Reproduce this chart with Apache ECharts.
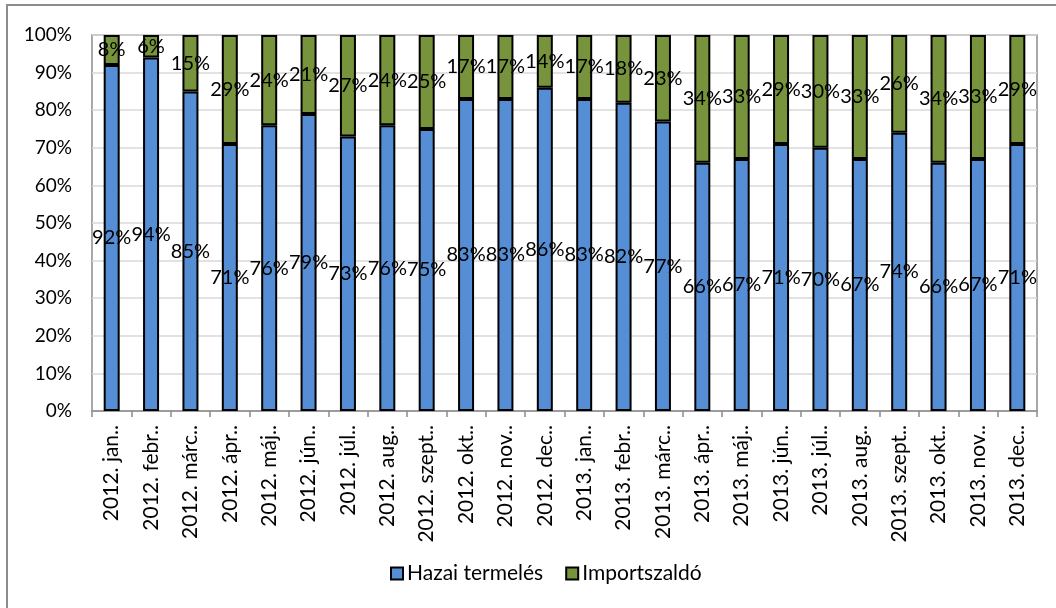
<!DOCTYPE html>
<html>
<head>
<meta charset="utf-8">
<script src="https://cdn.jsdelivr.net/npm/echarts@6/dist/echarts.min.js"></script>
<style>
  html, body { margin: 0; padding: 0; background: #fff; }
  #chart { width: 1056px; height: 608px; }
</style>
</head>
<body>
<div id="chart"></div>
<script>
// Monthly share of domestic production vs. net import (%)
const categories = [
  '2012. jan..', '2012. febr..', '2012. márc..', '2012. ápr..', '2012. máj..', '2012. jún..',
  '2012. júl..', '2012. aug..', '2012. szept..', '2012. okt..', '2012. nov..', '2012. dec..',
  '2013. jan..', '2013. febr..', '2013. márc..', '2013. ápr..', '2013. máj..', '2013. jún..',
  '2013. júl..', '2013. aug..', '2013. szept..', '2013. okt..', '2013. nov..', '2013. dec..'
];
const hazaiTermeles = [92, 94, 85, 71, 76, 79, 73, 76, 75, 83, 83, 86, 83, 82, 77, 66, 67, 71, 70, 67, 74, 66, 67, 71];
const importszaldo  = [8, 6, 15, 29, 24, 21, 27, 24, 25, 17, 17, 14, 17, 18, 23, 34, 33, 29, 30, 33, 26, 34, 33, 29];
const seriesNames = ['Hazai termelés', 'Importszaldó'];

const FONT = 'Lato';
const chart = echarts.init(document.getElementById('chart'), null, { renderer: 'canvas' });

const labelStyle = {
  show: true,
  position: 'inside',
  formatter: p => p.value + '%',
  color: '#000',
  fontFamily: FONT,
  fontSize: 20
};

chart.setOption({
  animation: false,
  backgroundColor: '#fff',
  graphic: [{
    type: 'rect',
    shape: { x: 7, y: 5, width: 1070, height: 640 },
    style: { fill: 'none', stroke: '#8c8c8c', lineWidth: 2 },
    silent: true
  }],
  grid: {
    left: 92, top: 35, width: 945, height: 376,
    show: true, borderColor: '#8c8c8c', borderWidth: 1.5, backgroundColor: 'transparent'
  },
  legend: {
    left: 390, top: 563, padding: 0,
    itemWidth: 12, itemHeight: 12, itemGap: 22,
    icon: 'rect',
    textStyle: { fontFamily: FONT, fontSize: 21, color: '#000', padding: [0, 0, 0, -1] },
    data: seriesNames
  },
  xAxis: {
    type: 'category',
    data: categories,
    axisLine: { lineStyle: { color: '#8c8c8c', width: 1.5 } },
    axisTick: { show: true, length: 6, lineStyle: { color: '#8c8c8c', width: 1.5 } },
    axisLabel: { rotate: 90, margin: 14, color: '#000', fontFamily: FONT, fontSize: 21, interval: 0 }
  },
  yAxis: {
    type: 'value',
    min: 0, max: 100, interval: 10,
    axisLine: { show: false },
    axisTick: { show: false },
    splitLine: { lineStyle: { color: '#d9d9d9', width: 1.5 } },
    axisLabel: { formatter: '{value}%', margin: 20, color: '#000', fontFamily: FONT, fontSize: 19 }
  },
  series: [
    {
      name: seriesNames[0], type: 'bar', stack: 'total',
      data: hazaiTermeles, barWidth: 16,
      itemStyle: { color: '#558ED5', borderColor: '#000', borderWidth: 2 },
      label: labelStyle
    },
    {
      name: seriesNames[1], type: 'bar', stack: 'total',
      data: importszaldo, barWidth: 16,
      itemStyle: { color: '#77933C', borderColor: '#000', borderWidth: 2 },
      label: labelStyle
    }
  ]
});
</script>
</body>
</html>
